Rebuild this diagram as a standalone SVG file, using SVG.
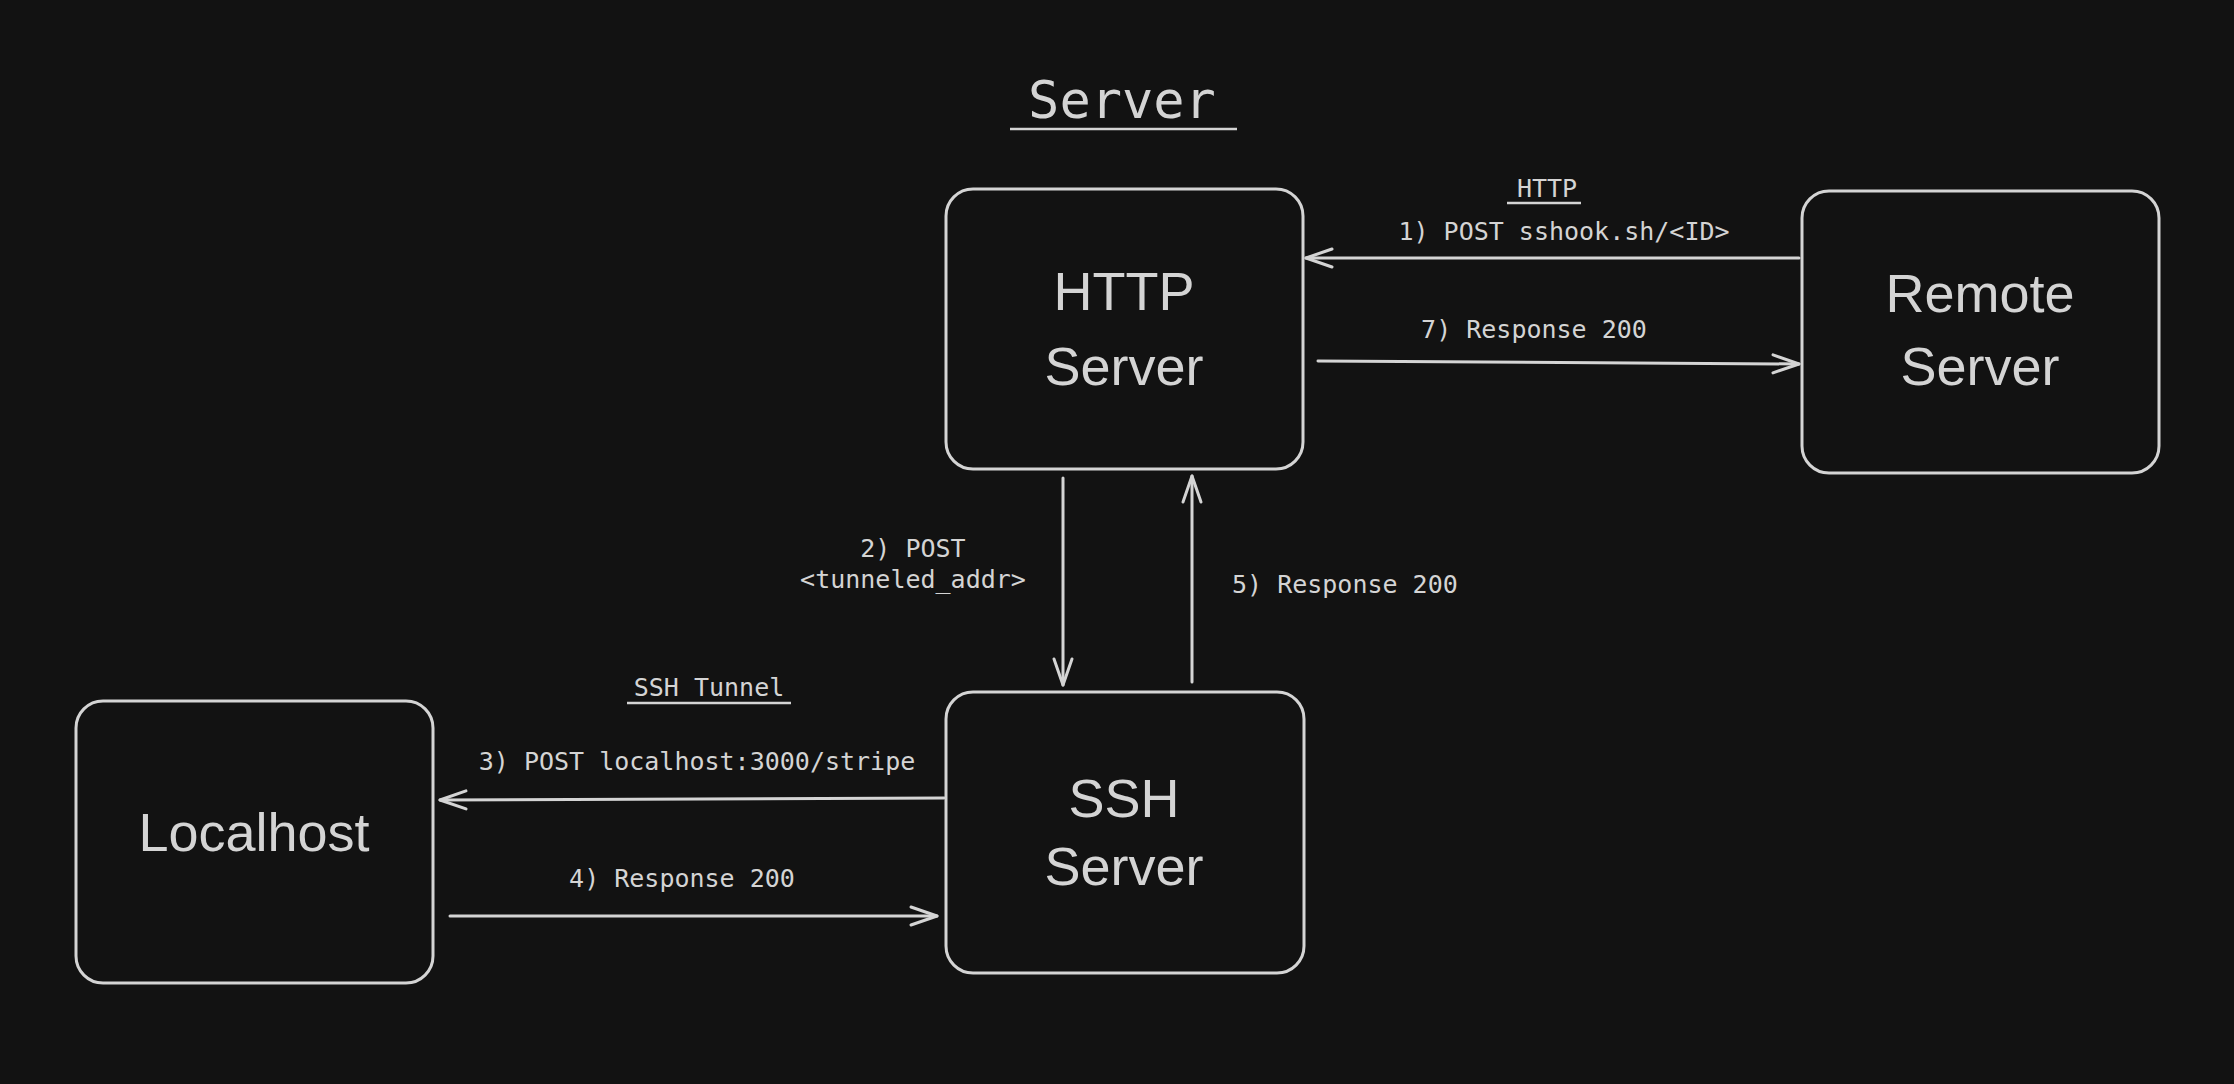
<svg xmlns="http://www.w3.org/2000/svg" width="2234" height="1084" viewBox="0 0 2234 1084">
<style>
.box{fill:#121212;stroke:#d4d4d4;stroke-width:3}
.hand{font-family:"Liberation Sans","Noto Sans",sans-serif;font-size:54px;fill:#d4d4d4;text-anchor:middle}
.mono{font-family:"DejaVu Sans Mono","Liberation Mono",monospace;font-size:25px;fill:#d4d4d4;text-anchor:middle}
.start{text-anchor:start}
.conn{stroke:#d4d4d4;stroke-width:3;fill:none;stroke-linecap:round}
.ul{stroke:#d4d4d4;stroke-width:2.5}
</style>
<defs>
<marker id="arr" viewBox="-30 -12 32 24" markerWidth="32" markerHeight="24" refX="0" refY="0" orient="auto" markerUnits="userSpaceOnUse" overflow="visible">
<path d="M-26 -9 L0 0 L-26 9" fill="none" stroke="#d4d4d4" stroke-width="3" stroke-linecap="round" stroke-linejoin="round"/>
</marker>
</defs>
<rect width="2234" height="1084" fill="#121212"/>
<g id="title">
<text x="1122" y="118" font-family="DejaVu Sans Mono, Liberation Mono, monospace" font-size="52" fill="#d4d4d4" text-anchor="middle">Server</text>
<line x1="1010" y1="129" x2="1237" y2="129" class="ul" stroke-width="3"/>
</g>
<g id="http-server">
<rect class="box" x="946" y="189" width="357" height="280" rx="27"/>
<text class="hand" x="1124" y="310">HTTP</text>
<text class="hand" x="1124" y="385">Server</text>
</g>
<g id="remote-server">
<rect class="box" x="1802" y="191" width="357" height="282" rx="27"/>
<text class="hand" x="1980" y="312">Remote</text>
<text class="hand" x="1980" y="385">Server</text>
</g>
<g id="ssh-server">
<rect class="box" x="946" y="692" width="358" height="281" rx="27"/>
<text class="hand" x="1124" y="817">SSH</text>
<text class="hand" x="1124" y="885">Server</text>
</g>
<g id="localhost">
<rect class="box" x="76" y="701" width="357" height="282" rx="27"/>
<text class="hand" x="254" y="851">Localhost</text>
</g>
<g id="connectors">
<path class="conn" d="M1799 258 L1306 258" marker-end="url(#arr)"/>
<path class="conn" d="M1318 361 L1799 364" marker-end="url(#arr)"/>
<path class="conn" d="M1063 478 L1063 685" marker-end="url(#arr)"/>
<path class="conn" d="M1192 682 L1192 476" marker-end="url(#arr)"/>
<path class="conn" d="M944 798 L440 800" marker-end="url(#arr)"/>
<path class="conn" d="M450 916 L937 916" marker-end="url(#arr)"/>
</g>
<g id="labels">
<text class="mono" x="1547" y="197">HTTP</text>
<line class="ul" x1="1507" y1="203" x2="1581" y2="203"/>
<text class="mono" x="1564" y="240">1) POST sshook.sh/&lt;ID&gt;</text>
<text class="mono" x="1534" y="338">7) Response 200</text>
<text class="mono" x="913" y="557">2) POST</text>
<text class="mono" x="913" y="588">&lt;tunneled_addr&gt;</text>
<text class="mono start" x="1232" y="593">5) Response 200</text>
<text class="mono" x="709" y="696">SSH Tunnel</text>
<line class="ul" x1="627" y1="703" x2="791" y2="703"/>
<text class="mono" x="697" y="770">3) POST localhost:3000/stripe</text>
<text class="mono" x="682" y="887">4) Response 200</text>
</g>
</svg>
